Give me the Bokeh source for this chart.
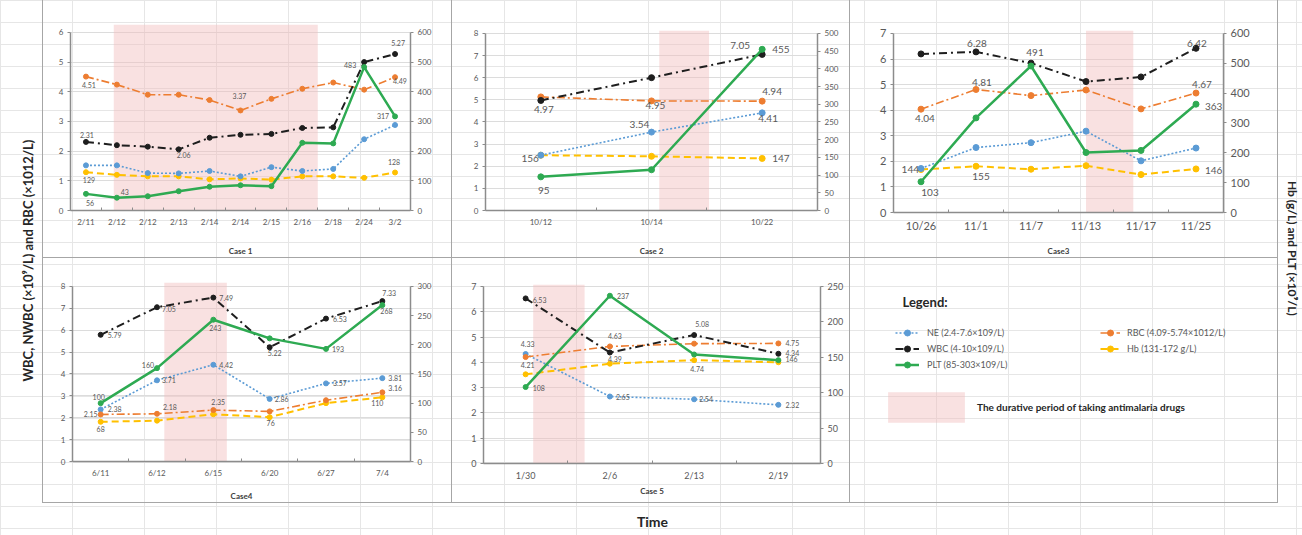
import math
from bokeh.plotting import figure
from bokeh.models import Range1d, LinearAxis, FixedTicker, ColumnDataSource, Label, Legend, LegendItem
from bokeh.layouts import row, column
from bokeh.core.properties import value
from bokeh.embed import file_html
from bokeh.resources import INLINE

# ---------------- data ----------------
c1_dates = ["2/11", "2/12", "2/12", "2/13", "2/14", "2/14", "2/15", "2/16", "2/18", "2/24", "3/2"]
c1_ne = [1.52, 1.52, 1.26, 1.25, 1.33, 1.15, 1.46, 1.33, 1.40, 2.40, 2.88]
c1_rbc = [4.51, 4.24, 3.90, 3.90, 3.72, 3.37, 3.76, 4.10, 4.31, 4.07, 4.49]
c1_wbc = [2.31, 2.20, 2.15, 2.06, 2.45, 2.55, 2.58, 2.78, 2.80, 5.00, 5.27]
c1_hb = [129, 120, 115, 115, 105, 108, 104, 115, 115, 110, 128]
c1_plt = [56, 43, 48, 65, 80, 85, 82, 228, 226, 483, 317]
c1_drug = (0.9, 7.5)

c2_dates = ["10/12", "10/14", "10/22"]
c2_ne = [2.50, 3.54, 4.41]
c2_rbc = [5.13, 4.95, 4.94]
c2_wbc = [4.97, 6.00, 7.05]
c2_hb = [156, 153, 147]
c2_plt = [95, 115, 455]
c2_drug = (1.07, 1.52)

c3_dates = ["10/26", "11/1", "11/7", "11/13", "11/17", "11/25"]
c3_ne = [1.72, 2.54, 2.73, 3.18, 2.02, 2.52]
c3_rbc = [4.04, 4.81, 4.57, 4.79, 4.05, 4.67]
c3_wbc = [6.20, 6.28, 5.84, 5.12, 5.30, 6.42]
c3_hb = [144, 155, 145, 157, 127, 146]
c3_plt = [103, 317, 491, 201, 208, 363]
c3_drug = (3.0, 3.86)

c4_dates = ["6/11", "6/12", "6/15", "6/20", "6/27", "7/4"]
c4_ne = [2.38, 3.71, 4.42, 2.86, 3.57, 3.81]
c4_rbc = [2.15, 2.18, 2.35, 2.29, 2.80, 3.16]
c4_wbc = [5.79, 7.05, 7.49, 5.22, 6.53, 7.33]
c4_hb = [68, 70, 81, 76, 100, 110]
c4_plt = [100, 160, 243, 211, 193, 268]
c4_drug = (1.13, 2.24)

c5_dates = ["1/30", "2/6", "2/13", "2/19"]
c5_ne = [4.33, 2.65, 2.54, 2.32]
c5_rbc = [4.21, 4.63, 4.74, 4.75]
c5_wbc = [6.53, 4.39, 5.08, 4.34]
c5_hb = [126, 141, 146, 143]
c5_plt = [108, 237, 154, 146]
c5_drug = (0.09, 0.70)

legend_names = {
    "ne": "NE (2.4-7.6×109/L)",
    "wbc": "WBC (4-10×109/L)",
    "plt": "PLT (85-303×109/L)",
    "rbc": "RBC (4.09-5.74×1012/L)",
    "hb": "Hb (131-172 g/L)",
}
drug_text = "The durative period of taking antimalaria drugs"

# ---------------- styles ----------------
FONT = "Lato"
TICK_C = "#595959"
AX_C = "#8c8c8c"
PINK = "#f2bcbc"
FRAME = "inset -1px -1px 0 #a6a6a6"

STYLE = {
    "ne": dict(color="#5b9bd5", dash="2 2", width=1.6, axis="left"),
    "rbc": dict(color="#ed7d31", dash="8 3 2 3", width=1.6, axis="left"),
    "wbc": dict(color="#1e1e1e", dash="8 4 2 4", width=2.0, axis="left"),
    "hb": dict(color="#ffc000", dash="7 4", width=2.0, axis="right"),
    "plt": dict(color="#2eaa52", dash="solid", width=2.5, axis="right"),
}
ORDER = ["hb", "ne", "rbc", "wbc", "plt"]

# label placement: (series, index, dx px, dy px (up), align)
L1 = [("rbc", 0, 3, -8, "center"), ("rbc", 5, -1, 14, "center"), ("rbc", 10, -2, -4, "left"),
      ("wbc", 0, 1, 7, "center"), ("wbc", 3, 5, -6, "center"), ("wbc", 10, 3, 11, "center"),
      ("hb", 0, 3, -8, "center"), ("hb", 10, -1, 10, "center"),
      ("plt", 0, 4, -9, "center"), ("plt", 1, 8, 6, "center"), ("plt", 9, -14, 2, "center"),
      ("plt", 10, -12, 0, "center")]
L2 = [("wbc", 0, 3, -9, "center"), ("ne", 1, -12, 8, "center"), ("rbc", 1, 4, -5, "center"),
      ("wbc", 2, -22, 9, "center"), ("plt", 2, 10, 0, "left"), ("rbc", 2, 0, 10, "left"),
      ("ne", 2, -4, -6, "left"), ("hb", 2, 10, 0, "left"), ("hb", 0, -2, -3, "right"),
      ("plt", 0, 3, -14, "center")]
L3 = [("wbc", 1, 1, 8, "center"), ("plt", 2, 4, 13, "center"), ("wbc", 5, 1, 5, "center"),
      ("rbc", 1, 6, 7, "center"), ("rbc", 0, 4, -9, "center"), ("rbc", 5, 6, 9, "center"),
      ("plt", 5, 9, -2, "left"), ("hb", 0, -2, 0, "right"), ("hb", 1, 5, -10, "center"),
      ("plt", 0, 9, -11, "center"), ("hb", 5, 9, -2, "left")]
L4 = [("wbc", 0, 7, 0, "left"), ("wbc", 1, 5, -2, "left"), ("wbc", 2, 6, 0, "left"),
      ("wbc", 3, -2, -6, "left"), ("wbc", 4, 7, 0, "left"), ("wbc", 5, 0, 8, "left"),
      ("plt", 0, -2, 6, "center"), ("plt", 1, -3, 3, "right"), ("plt", 2, 2, -8, "center"),
      ("plt", 4, 6, 0, "left"), ("plt", 5, -2, -6, "left"),
      ("ne", 0, 7, 0, "left"), ("ne", 1, 5, 0, "left"), ("ne", 2, 6, 0, "left"),
      ("ne", 3, 5, 0, "left"), ("ne", 4, 7, 0, "left"), ("ne", 5, 6, 0, "left"),
      ("rbc", 0, -3, 0, "right"), ("rbc", 1, 6, 7, "left"), ("rbc", 2, -2, 8, "left"),
      ("rbc", 5, 6, 4, "left"), ("hb", 0, 0, -7, "center"), ("hb", 3, 1, -6, "center"),
      ("hb", 5, -5, -6, "center")]
L5 = [("wbc", 0, 7, -2, "left"), ("ne", 0, 2, 10, "center"), ("rbc", 0, 2, -8, "center"),
      ("plt", 0, 7, -1, "left"), ("plt", 1, 7, 0, "left"), ("rbc", 1, 5, 10, "center"),
      ("wbc", 1, 5, -6, "center"), ("ne", 1, 6, 0, "left"), ("wbc", 2, 8, 11, "center"),
      ("rbc", 2, 3, -25, "center"), ("ne", 2, 5, 0, "left"), ("rbc", 3, 7, 0, "left"),
      ("wbc", 3, 7, 1, "left"), ("plt", 3, 7, 1, "left"), ("ne", 3, 7, 0, "left")]


def base_fig(w, h, **kw):
    return figure(width=w, height=h, output_backend="svg", toolbar_location=None, title=None,
                  border_fill_color=None, background_fill_color=None, outline_line_color=None,
                  frame_align=False, **kw)


def make_panel(dates, data, drug, title, w, h, bl, br, bt, bb, lmax, ltop, rmax, rstep,
               tick_fs, lab_fs, labels, title_standoff, msize):
    n = len(dates)
    xs = list(range(n))
    p = base_fig(w, h, x_range=Range1d(-0.5, n - 0.5), y_range=Range1d(0, ltop),
                 min_border_left=bl, min_border_right=br, min_border_top=bt, min_border_bottom=bb)
    p.extra_y_ranges = {"r": Range1d(0, ltop * rmax / lmax)}
    lt = FixedTicker(ticks=list(range(0, lmax + 1)))
    p.xgrid.visible = False
    p.ygrid.ticker = lt
    p.ygrid.grid_line_color = "#dcdcdc"

    p.quad(left=[drug[0]], right=[drug[1]], bottom=[0], top=[ltop],
           fill_color=PINK, fill_alpha=0.45, line_color=None)

    xa = p.xaxis[0]
    xa.ticker = FixedTicker(ticks=xs, minor_ticks=[i - 0.5 for i in range(n + 1)])
    xa.major_label_overrides = {i: d for i, d in enumerate(dates)}
    xa.major_tick_line_color = None
    xa.major_tick_in = 0
    xa.major_tick_out = 0
    xa.minor_tick_in = 3
    xa.minor_tick_out = 0
    xa.minor_tick_line_color = AX_C
    xa.major_label_standoff = 6
    xa.axis_label = title
    xa.axis_label_text_font_size = "8px"
    xa.axis_label_text_font_style = "bold"
    xa.axis_label_text_color = "#404040"
    xa.axis_label_text_font = FONT
    xa.axis_label_standoff = title_standoff

    ya = p.yaxis[0]
    ya.ticker = lt
    ya.bounds = (0, lmax)
    ra = LinearAxis(y_range_name="r", ticker=FixedTicker(ticks=list(range(0, rmax + 1, rstep))),
                    bounds=(0, rmax))
    p.add_layout(ra, "right")
    for ax in (xa, ya, ra):
        ax.axis_line_color = AX_C
        ax.axis_line_width = 1.5
        ax.major_label_text_font = FONT
        ax.major_label_text_font_size = f"{tick_fs}px"
        ax.major_label_text_color = TICK_C
    for ax in (ya, ra):
        ax.major_tick_in = 0
        ax.major_tick_out = 3
        ax.major_tick_line_color = AX_C
        ax.minor_tick_line_color = None
        ax.major_label_standoff = 4

    for k in ORDER:
        st = STYLE[k]
        rn = "r" if st["axis"] == "right" else "default"
        p.line(xs, data[k], line_color=st["color"], line_width=st["width"],
               line_dash=st["dash"], y_range_name=rn)
        p.scatter(xs, data[k], size=msize, fill_color=st["color"], line_color=st["color"],
                  y_range_name=rn)

    groups = {}
    for (k, i, dx, dy, al) in labels:
        st = STYLE[k]
        v = data[k][i]
        txt = f"{v:.2f}" if st["axis"] == "left" else f"{v:.0f}"
        g = groups.setdefault((st["axis"], al), dict(x=[], y=[], t=[], xo=[], yo=[]))
        g["x"].append(i)
        g["y"].append(v)
        g["t"].append(txt)
        g["xo"].append(dx)
        g["yo"].append(-dy)
    for (ax, al), g in groups.items():
        src = ColumnDataSource(g)
        p.text(x="x", y="y", text="t", x_offset="xo", y_offset="yo", source=src,
               text_align=al, text_baseline="middle", text_font=value(FONT),
               text_font_size=value(f"{lab_fs}px"), text_color=TICK_C,
               y_range_name=("r" if ax == "right" else "default"))
    p.styles = {"box-shadow": FRAME}
    return p


def pack(ne, rbc, wbc, hb, plt):
    return {"ne": ne, "rbc": rbc, "wbc": wbc, "hb": hb, "plt": plt}


f1 = make_panel(c1_dates, pack(c1_ne, c1_rbc, c1_wbc, c1_hb, c1_plt), c1_drug, "Case 1",
                409, 258, 27, 42, 24, 45, 6, 6.265, 600, 100, 8, 7, L1, 16, 5)
f2 = make_panel(c2_dates, pack(c2_ne, c2_rbc, c2_wbc, c2_hb, c2_plt), c2_drug, "Case 2",
                398, 258, 33, 33, 30, 45, 8, 8.13, 500, 50, 8, 10, L2, 16, 6)
f3 = make_panel(c3_dates, pack(c3_ne, c3_rbc, c3_wbc, c3_hb, c3_plt), c3_drug, "Case3",
                428, 258, 43, 55, 30, 44, 7, 7.116, 600, 100, 11, 10, L3, 11, 6)
f4 = make_panel(c4_dates, pack(c4_ne, c4_rbc, c4_wbc, c4_hb, c4_plt), c4_drug, "Case4",
                409, 245, 29, 42, 24, 41, 8, 8.18, 300, 50, 8, 7, L4, 10, 5)
f5 = make_panel(c5_dates, pack(c5_ne, c5_rbc, c5_wbc, c5_hb, c5_plt), c5_drug, "Case 5",
                398, 245, 31, 30, 26, 40, 7, 7.08, 250, 50, 9, 7, L5, 2, 5)


def blank(w, h):
    return base_fig(w, h, x_range=Range1d(0, 1), y_range=Range1d(0, 1),
                    x_axis_type=None, y_axis_type=None, min_border=0)


# ---------------- legend panel ----------------
lg = blank(428, 245)
lg.styles = {"box-shadow": FRAME}


def dummy(k):
    st = STYLE[k]
    r1 = lg.line(x=[-5, -4], y=[-5, -5], line_color=st["color"], line_width=st["width"],
                 line_dash=st["dash"])
    r2 = lg.scatter(x=[-5], y=[-5], size=6, fill_color=st["color"], line_color=st["color"])
    return [r1, r2]


common = dict(padding=0, margin=0, spacing=1, glyph_height=15, label_height=15,
              border_line_color=None, background_fill_alpha=0, label_text_font=FONT,
              label_text_font_size="9px", label_text_color=TICK_C)
legA = Legend(items=[LegendItem(label=value(legend_names[k]), renderers=dummy(k)) for k in ["ne", "wbc", "plt"]],
              location=(45, 131), glyph_width=24, label_standoff=8, **common)
legB = Legend(items=[LegendItem(label=value(legend_names[k]), renderers=dummy(k)) for k in ["rbc", "hb"]],
              location=(250, 147), glyph_width=20, label_standoff=7, **common)
rq = lg.quad(left=[-5], right=[-4], top=[-4], bottom=[-5], fill_color=PINK, fill_alpha=0.45,
             line_color=None)
legC = Legend(items=[LegendItem(label=value(drug_text), renderers=[rq])], location=(28, 77),
              glyph_width=96, glyph_height=38, label_height=38, label_standoff=3, padding=0, margin=0,
              border_line_color=None, background_fill_alpha=0, label_text_font=FONT,
              label_text_font_style="bold", label_text_font_size="10px", label_text_color="#262626")
for L in (legA, legB, legC):
    lg.add_layout(L)
lg.add_layout(Label(x=52, y=202, x_units="screen", y_units="screen", text="Legend:",
                    text_font=FONT, text_font_style="bold", text_font_size="13px",
                    text_baseline="middle", text_color="#262626"))

# ---------------- side / bottom titles ----------------
lf = blank(43, 503)
lf.styles = {"box-shadow": "inset -1px 0 0 #a6a6a6"}
lf.add_layout(Label(x=27, y=246, x_units="screen", y_units="screen",
                    text="WBC,   NWBC (×10⁹/L) and RBC (×1012/L)", angle=math.pi / 2,
                    text_align="center", text_baseline="middle", text_font=FONT,
                    text_font_style="bold", text_font_size="13px", text_color="#262626"))
rf = blank(24, 503)
rf.add_layout(Label(x=14, y=255, x_units="screen", y_units="screen",
                    text="Hb (g/L) and PLT (×10⁹/L)", angle=-math.pi / 2,
                    text_align="center", text_baseline="middle", text_font=FONT,
                    text_font_style="bold", text_font_size="12px", text_color="#262626"))
tf = blank(1302, 32)
tf.add_layout(Label(x=652, y=14, x_units="screen", y_units="screen", text="Time",
                    text_align="center", text_baseline="middle", text_font=FONT,
                    text_font_style="bold", text_font_size="14px", text_color="#262626"))

mid = column(row(f1, f2, f3), row(f4, f5, lg))
root = column(row(lf, mid, rf), tf)
root.styles = {
    "background-color": "white",
    "background-image": "linear-gradient(to right, #e6e6e6 1px, transparent 1px), "
                        "linear-gradient(to bottom, #e6e6e6 1px, transparent 1px)",
    "background-size": "72px 22px",
}

open("out.html", "w").write(file_html(root, INLINE))
